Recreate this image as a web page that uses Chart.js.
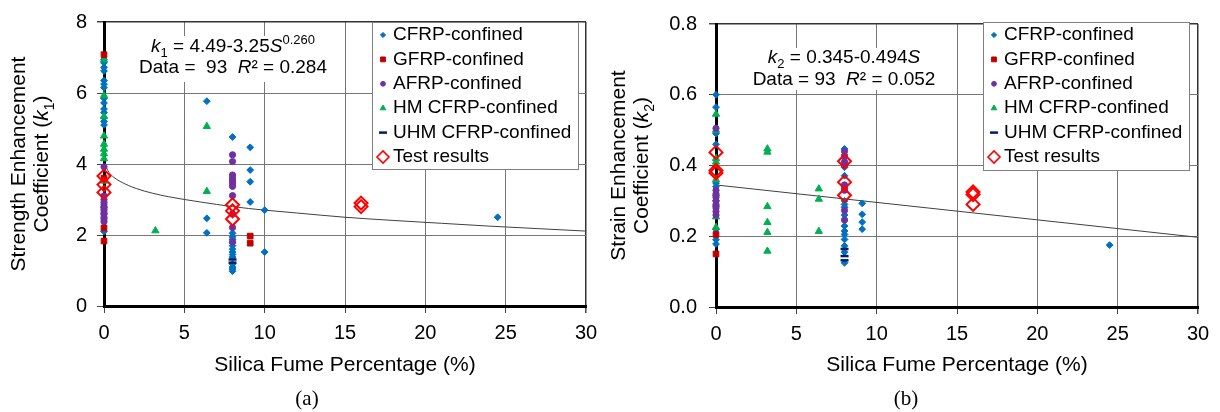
<!DOCTYPE html>
<html>
<head>
<meta charset="utf-8">
<script src="https://cdn.jsdelivr.net/npm/chart.js@4.4.1/dist/chart.umd.min.js"></script>
<style>
  html, body { margin: 0; padding: 0; background: #fff; }
  #wrap { display: flex; width: 1220px; height: 412px; }
  canvas { display: block; }
</style>
</head>
<body>
<div id="wrap">
  <canvas id="chartA" width="610" height="412"></canvas>
  <canvas id="chartB" width="610" height="412"></canvas>
</div>
<script>
// ---- axis ticks / names ----
const xTicks = [0, 5, 10, 15, 20, 25, 30];
const yTicksA = [0, 2, 4, 6, 8];
const yLabelsA = ['0', '2', '4', '6', '8'];
const yTicksB = [0, 0.2, 0.4, 0.6, 0.8];
const yLabelsB = ['0.0', '0.2', '0.4', '0.6', '0.8'];
const legendNames = ['CFRP-confined', 'GFRP-confined', 'AFRP-confined', 'HM CFRP-confined', 'UHM CFRP-confined', 'Test results'];

// ---- (a) strength enhancement coefficient k1 ----
const aCfrpX = [0, 0, 0, 0, 0, 0, 0, 0, 0, 0, 0, 0, 0, 0, 0, 0, 6.4, 6.4, 6.4, 8, 8, 8, 8, 8, 8, 8, 8, 8, 8, 8, 8, 8, 8, 9.1, 9.1, 9.1, 9.1, 10, 10, 24.5];
const aCfrpY = [6.95, 6.85, 6.72, 6.62, 6.35, 6.25, 6.15, 5.85, 5.72, 5.55, 5.45, 5.3, 5.2, 5.1, 2.6, 2.1, 5.77, 2.47, 2.06, 4.76, 2.05, 1.95, 1.88, 1.78, 1.7, 1.6, 1.52, 1.45, 1.38, 1.18, 1.1, 1.04, 0.98, 4.47, 3.83, 3.5, 2.93, 2.7, 1.52, 2.5];
const aGfrpX = [0, 0, 0, 0, 9.1, 9.1];
const aGfrpY = [7.08, 3.6, 2.2, 1.83, 1.97, 1.77];
const aAfrpX = [0, 0, 0, 0, 0, 0, 0, 0, 0, 0, 0, 0, 8, 8, 8, 8, 8, 8, 8, 8, 8, 8, 8];
const aAfrpY = [3.92, 3.1, 3.0, 2.92, 2.85, 2.78, 2.72, 2.65, 2.58, 2.5, 2.45, 2.38, 4.26, 4.07, 3.69, 3.6, 3.52, 3.45, 3.37, 3.11, 2.6, 2.21, 1.81];
const aHmX = [0, 0, 0, 0, 0, 0, 0, 0, 0, 0, 3.2, 6.4, 6.4];
const aHmY = [6.94, 5.93, 5.34, 4.79, 4.56, 4.42, 4.29, 4.15, 3.52, 2.83, 2.12, 5.06, 3.23];
const aUhmX = [8, 8];
const aUhmY = [1.31, 1.22];
const aTestX = [0, 0, 0, 8, 8, 8, 16, 16];
const aTestY = [3.66, 3.42, 3.2, 2.85, 2.68, 2.45, 2.9, 2.8];
const aFitX = [0.1, 0.3, 0.6, 1, 2, 3, 4, 6, 8, 10, 12, 15, 18, 21, 24, 27, 30];
const aFitY = [3.95, 3.77, 3.63, 3.51, 3.31, 3.18, 3.08, 2.93, 2.80, 2.70, 2.62, 2.50, 2.41, 2.33, 2.25, 2.18, 2.11];

// ---- (b) strain enhancement coefficient k2 ----
const bCfrpX = [0, 0, 0, 0, 0, 0, 0, 0, 0, 0, 8, 8, 8, 8, 8, 8, 8, 8, 8, 8, 8, 8, 8, 8, 8, 9.1, 9.1, 9.1, 9.1, 24.5];
const bCfrpY = [0.60, 0.565, 0.49, 0.46, 0.35, 0.34, 0.30, 0.22, 0.19, 0.178, 0.447, 0.43, 0.395, 0.371, 0.30, 0.29, 0.282, 0.26, 0.229, 0.215, 0.205, 0.191, 0.173, 0.155, 0.125, 0.293, 0.262, 0.24, 0.22, 0.175];
const bGfrpX = [0, 0];
const bGfrpY = [0.205, 0.15];
const bAfrpX = [0, 0, 0, 0, 0, 0, 0, 0, 0, 8, 8, 8, 8, 8, 8, 8, 8, 8];
const bAfrpY = [0.505, 0.33, 0.32, 0.31, 0.30, 0.29, 0.28, 0.27, 0.26, 0.44, 0.425, 0.41, 0.40, 0.345, 0.338, 0.33, 0.273, 0.246];
const bHmX = [0, 0, 0, 0, 0, 0, 0, 0, 0, 0, 3.2, 3.2, 3.2, 3.2, 3.2, 3.2, 6.4, 6.4, 6.4];
const bHmY = [0.545, 0.5, 0.42, 0.41, 0.40, 0.36, 0.32, 0.29, 0.255, 0.225, 0.447, 0.438, 0.284, 0.239, 0.211, 0.158, 0.334, 0.305, 0.214];
const bUhmX = [8, 8, 8];
const bUhmY = [0.164, 0.144, 0.132];
const bTestX = [0, 0, 0, 8, 8, 8, 16, 16, 16];
const bTestY = [0.437, 0.386, 0.379, 0.412, 0.353, 0.316, 0.325, 0.318, 0.29];
const bFitX = [0, 30];
const bFitY = [0.345, 0.197];

const FAM = "'Liberation Sans', Arial, Helvetica, sans-serif";
Chart.defaults.font.family = FAM;
Chart.defaults.color = '#000';

function pts(xs, ys) { return xs.map((x, i) => ({ x: x, y: ys[i] })); }

// marker looks, same order as legendNames
const looks = [
  { fill: '#0070C0', line: '#0070C0', shape: 'rectRot', r: 3.4, lr: 2.6, bw: 1, order: 4 },
  { fill: '#C00000', line: '#C00000', shape: 'rect', r: 4, lr: 3.4, bw: 1, order: 3 },
  { fill: '#7030A0', line: '#7030A0', shape: 'circle', r: 3.1, lr: 2.4, bw: 1, order: 2 },
  { fill: '#00B050', line: '#00B050', shape: 'triangle', r: 4.2, lr: 3.2, bw: 1, order: 3 },
  { fill: '#002060', line: '#002060', shape: 'line', r: 4, lr: 4, bw: 2.5, order: 1 },
  { fill: 'rgba(0,0,0,0)', line: '#FF0000', shape: 'rectRot', r: 6.5, lr: 6, bw: 2, order: 0 }
];

function buildSets(xs, ys, fitX, fitY) {
  const sets = legendNames.map((name, i) => ({
    label: name,
    data: pts(xs[i], ys[i]),
    pointStyle: looks[i].shape,
    pointRadius: looks[i].r,
    pointBackgroundColor: looks[i].fill,
    pointBorderColor: looks[i].line,
    pointBorderWidth: looks[i].bw,
    showLine: false,
    clip: false,
    order: looks[i].order
  }));
  sets.push({
    label: 'fit', data: pts(fitX, fitY), showLine: true, pointRadius: 0,
    borderColor: '#404040', borderWidth: 1, cubicInterpolationMode: 'monotone', order: 9, clip: false
  });
  return sets;
}

// text with italic / sub / sup pieces
function rich(ctx, segs, x, y, size, align) {
  const f = (st) => {
    const small = st === 'sub' || st === 'sup';
    return (st === 'i' ? 'italic ' : '') + (small ? Math.round(size * 0.66) : size) + 'px ' + FAM;
  };
  let w = 0;
  segs.forEach(s => { ctx.font = f(s[1]); w += ctx.measureText(s[0]).width; });
  let cx = align === 'center' ? x - w / 2 : x;
  ctx.textAlign = 'left';
  ctx.textBaseline = 'alphabetic';
  segs.forEach(s => {
    ctx.font = f(s[1]);
    const dy = s[1] === 'sub' ? size * 0.28 : (s[1] === 'sup' ? -size * 0.42 : 0);
    ctx.fillText(s[0], cx, y + dy);
    cx += ctx.measureText(s[0]).width;
  });
}

const decor = {
  id: 'decor',
  beforeDatasetsDraw(chart, args, o) {
    const ctx = chart.ctx;
    ctx.save();
    ctx.fillStyle = '#fff';
    ctx.fillRect(o.noteBox[0], o.noteBox[1], o.noteBox[2], o.noteBox[3]);
    ctx.fillStyle = '#000';
    o.note.forEach(line => rich(ctx, line.segs, o.noteX, line.y, 19, 'center'));
    ctx.restore();
  },
  afterDraw(chart, args, o) {
    const ctx = chart.ctx, area = chart.chartArea;
    ctx.save();
    // legend box
    const bx = o.legendBox[0], by = o.legendBox[1];
    ctx.fillStyle = '#fff';
    ctx.fillRect(bx, by, o.legendBox[2], o.legendBox[3]);
    ctx.strokeStyle = '#7f7f7f';
    ctx.lineWidth = 1;
    ctx.strokeRect(bx + 0.5, by + 0.5, o.legendBox[2], o.legendBox[3]);
    legendNames.forEach((name, i) => {
      const lk = looks[i], y = by + 13 + i * 24.4;
      ctx.fillStyle = lk.fill;
      ctx.strokeStyle = lk.line;
      ctx.lineWidth = i === 5 ? 1.6 : lk.bw;
      Chart.helpers.drawPoint(ctx, { pointStyle: lk.shape, radius: lk.lr, borderWidth: lk.bw, rotation: 0 }, bx + 11, y);
      ctx.fillStyle = '#000';
      ctx.font = '19px ' + FAM;
      ctx.textAlign = 'left';
      ctx.textBaseline = 'middle';
      ctx.fillText(name, bx + 21, y);
    });
    // rotated y-axis title
    const cy = (area.top + area.bottom) / 2;
    o.yTitle.forEach(line => {
      ctx.save();
      ctx.translate(line.x, cy);
      ctx.rotate(-Math.PI / 2);
      ctx.fillStyle = '#000';
      rich(ctx, line.segs, 0, 0, 21, 'center');
      ctx.restore();
    });
    // panel tag
    ctx.fillStyle = '#000';
    ctx.font = '21px "Liberation Serif", "Times New Roman", serif';
    ctx.textAlign = 'center';
    ctx.textBaseline = 'middle';
    ctx.fillText(o.tag, o.tagX, o.tagY);
    ctx.restore();
  }
};

function gridOpts(max) {
  return {
    color: c => (c.tick && c.tick.value === max) ? '#333' : '#777',
    lineWidth: c => (c.tick && c.tick.value === max) ? 1.5 : 1,
    tickLength: 7,
    tickColor: '#444',
    drawTicks: true
  };
}

function makeScales(yTicks, yLabels, yMax, yWidth, yPad, xHeight) {
  return {
    x: {
      type: 'linear', min: 0, max: 30,
      afterBuildTicks: s => { s.ticks = xTicks.map(v => ({ value: v })); },
      ticks: { font: { size: 20 }, color: '#000', padding: 8, maxRotation: 0 },
      grid: gridOpts(30),
      border: { display: true, color: '#000', width: 3 },
      title: { display: true, text: 'Silica Fume Percentage (%)', font: { size: 21 }, color: '#000', padding: 0 },
      afterFit: s => { s.height = xHeight; }
    },
    y: {
      type: 'linear', min: 0, max: yMax,
      afterBuildTicks: s => { s.ticks = yTicks.map(v => ({ value: v })); },
      ticks: { font: { size: 20 }, color: '#000', padding: yPad, callback: (v, i) => yLabels[i] },
      grid: gridOpts(yMax),
      border: { display: true, color: '#000', width: 3 },
      afterFit: s => { s.width = yWidth; }
    }
  };
}

new Chart(document.getElementById('chartA'), {
  type: 'scatter',
  data: {
    datasets: buildSets(
      [aCfrpX, aGfrpX, aAfrpX, aHmX, aUhmX, aTestX],
      [aCfrpY, aGfrpY, aAfrpY, aHmY, aUhmY, aTestY],
      aFitX, aFitY)
  },
  options: {
    responsive: false, animation: false, devicePixelRatio: 1,
    layout: { padding: { left: 0, right: 24, top: 14, bottom: 34 } },
    scales: makeScales(yTicksA, yLabelsA, 8, 104, 10, 72),
    plugins: {
      legend: { display: false },
      tooltip: { enabled: false },
      decor: {
        legendBox: [372, 22, 206, 147],
        noteBox: [138, 36, 192, 46],
        noteX: 233,
        note: [
          { y: 52, segs: [['k', 'i'], ['1', 'sub'], [' = 4.49-3.25', ''], ['S', 'i'], ['0.260', 'sup']] },
          { y: 73, segs: [['Data =  93  ', ''], ['R', 'i'], ['\u00b2 = 0.284', '']] }
        ],
        yTitle: [
          { x: 25, segs: [['Strength Enhancement', '']] },
          { x: 48, segs: [['Coefficient (', ''], ['k', 'i'], ['1', 'sub'], [')', '']] }
        ],
        tag: '(a)', tagX: 307, tagY: 399
      }
    }
  },
  plugins: [decor]
});

new Chart(document.getElementById('chartB'), {
  type: 'scatter',
  data: {
    datasets: buildSets(
      [bCfrpX, bGfrpX, bAfrpX, bHmX, bUhmX, bTestX],
      [bCfrpY, bGfrpY, bAfrpY, bHmY, bUhmY, bTestY],
      bFitX, bFitY)
  },
  options: {
    responsive: false, animation: false, devicePixelRatio: 1,
    layout: { padding: { left: 0, right: 22, top: 15, bottom: 34 } },
    scales: makeScales(yTicksB, yLabelsB, 0.8, 106, 12, 71),
    plugins: {
      legend: { display: false },
      tooltip: { enabled: false },
      decor: {
        legendBox: [373, 22, 206, 148],
        noteBox: [137, 48, 191, 42],
        noteX: 234,
        note: [
          { y: 63, segs: [['k', 'i'], ['2', 'sub'], [' = 0.345-0.494', ''], ['S', 'i']] },
          { y: 85, segs: [['Data = 93  ', ''], ['R', 'i'], ['\u00b2 = 0.052', '']] }
        ],
        yTitle: [
          { x: 15, segs: [['Strain Enhancement', '']] },
          { x: 38, segs: [['Coefficient (', ''], ['k', 'i'], ['2', 'sub'], [')', '']] }
        ],
        tag: '(b)', tagX: 296, tagY: 399
      }
    }
  },
  plugins: [decor]
});
</script>
</body>
</html>
